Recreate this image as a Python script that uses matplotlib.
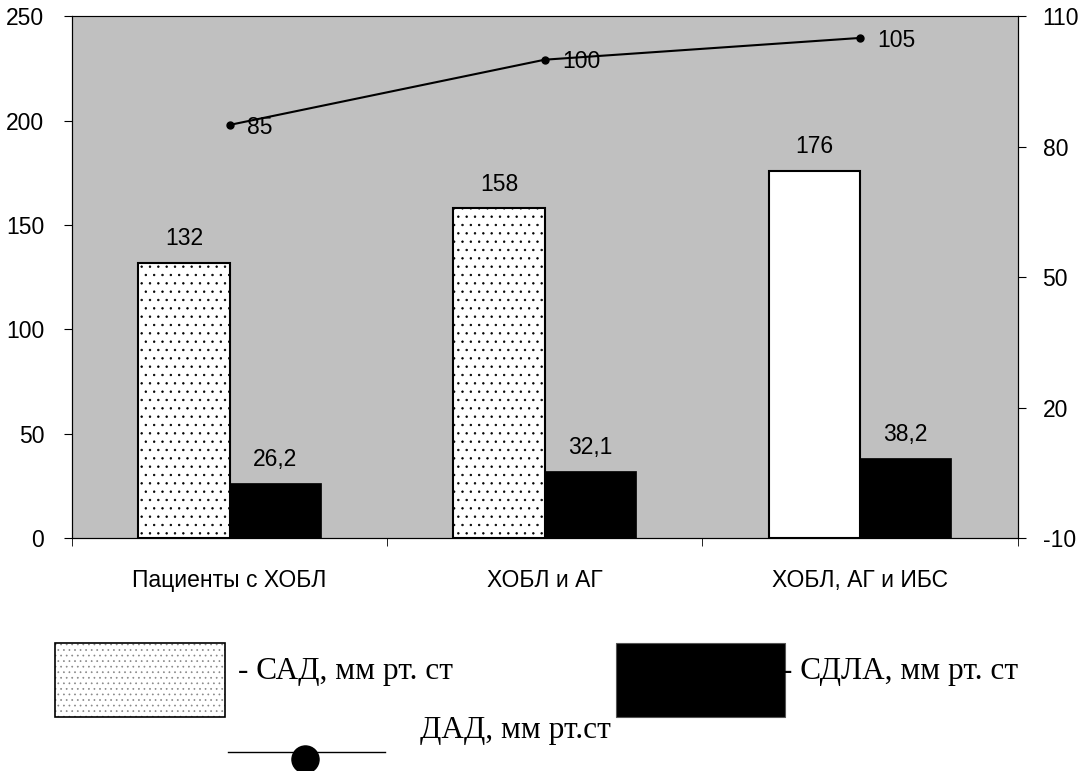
import matplotlib.pyplot as plt
import numpy as np
from matplotlib.patches import Rectangle
from matplotlib.lines import Line2D

plt.rcParams['font.family'] = ['Liberation Sans', 'DejaVu Sans']
plt.rcParams['hatch.linewidth'] = 0.5
plt.rcParams['axes.unicode_minus'] = False

categories = ['Пациенты с ХОБЛ', 'ХОБЛ и АГ', 'ХОБЛ, АГ и ИБС']
sad = [132, 158, 176]
sdla = [26.2, 32.1, 38.2]
dad = [85, 100, 105]
sad_labels = ['132', '158', '176']
sdla_labels = ['26,2', '32,1', '38,2']
dad_labels = ['85', '100', '105']

fs = 16.5
lfs = 22.5

fig = plt.figure(figsize=(10.86, 7.71), dpi=100)
ax = fig.add_axes([0.0663, 0.302, 0.8707, 0.677])
ax.set_facecolor('#c0c0c0')

x = np.arange(len(categories))
w = 0.29
hatches = ['..', '..', None]
for i in range(len(x)):
    ax.bar(x[i] - w / 2, sad[i], w, color='white', edgecolor='black',
           linewidth=1.5, hatch=hatches[i], zorder=2)
    ax.text(x[i] - w / 2, sad[i] + 6, sad_labels[i], ha='center', va='bottom', fontsize=fs)
ax.bar(x + w / 2, sdla, w, color='black', edgecolor='black', linewidth=0.5, zorder=2)
for i in range(len(x)):
    ax.text(x[i] + w / 2, sdla[i] + 6, sdla_labels[i], ha='center', va='bottom', fontsize=fs)

ax.set_xlim(-0.5, 2.5)
ax.set_ylim(0, 250)
ax.set_yticks([0, 50, 100, 150, 200, 250])
ax.set_xticks([])
ax.set_xticks([-0.5, 0.5, 1.5, 2.5], minor=True)
ax.tick_params(axis='x', which='minor', length=6, direction='out')
ax.tick_params(axis='y', length=6, direction='out', labelsize=fs, pad=14)
for i, c in enumerate(categories):
    ax.text(x[i], -15, c, ha='center', va='top', fontsize=fs)
for s in ['left', 'bottom', 'right', 'top']:
    ax.spines[s].set_color('black')
ax.spines['top'].set_color('#808080')

ax2 = ax.twinx()
ax2.plot(x, dad, color='black', linewidth=1.5, marker='o', markersize=5, zorder=3)
for i in range(len(x)):
    ax2.text(x[i] + 0.055, dad[i] - 0.5, dad_labels[i], ha='left', va='center', fontsize=fs)
ax2.set_ylim(-10, 110)
ax2.set_yticks([-10, 20, 50, 80, 110])
ax2.tick_params(axis='y', length=6, direction='out', labelsize=fs, pad=12)

# legend drawn below the plot
W, H = 1086, 771
lx, ly, lw_, lh = 55 / W, 1 - 717 / H, 170 / W, 74 / H
fig.add_artist(Rectangle((lx, ly), lw_, lh, transform=fig.transFigure,
                         facecolor='white', edgecolor='#888888', linewidth=0,
                         hatch='...'))
fig.add_artist(Rectangle((lx, ly), lw_, lh, transform=fig.transFigure,
                         facecolor='none', edgecolor='black', linewidth=1.2))
fig.text(238 / W, 1 - 679 / H, '- САД, мм рт. ст', family='Liberation Serif',
         fontsize=lfs, va='baseline', ha='left')
fig.text(1018 / W, 1 - 679 / H, '- СДЛА, мм рт. ст', family='Liberation Serif',
         fontsize=lfs, va='baseline', ha='right')
fig.add_artist(Rectangle((616 / W, ly), 169 / W, lh,
                         transform=fig.transFigure, facecolor='black',
                         edgecolor='#555555', linewidth=0.8))
fig.add_artist(Line2D([228 / W, 385 / W], [1 - 752 / H, 1 - 752 / H],
                      transform=fig.transFigure, color='black', linewidth=1))
fig.add_artist(Line2D([305 / W], [1 - 759 / H], transform=fig.transFigure,
                      marker='o', markersize=19.5, color='black'))
fig.text(420 / W, 1 - 738 / H, 'ДАД, мм рт.ст', family='Liberation Serif',
         fontsize=lfs, va='baseline', ha='left')

fig.savefig('out.png', dpi=100)
